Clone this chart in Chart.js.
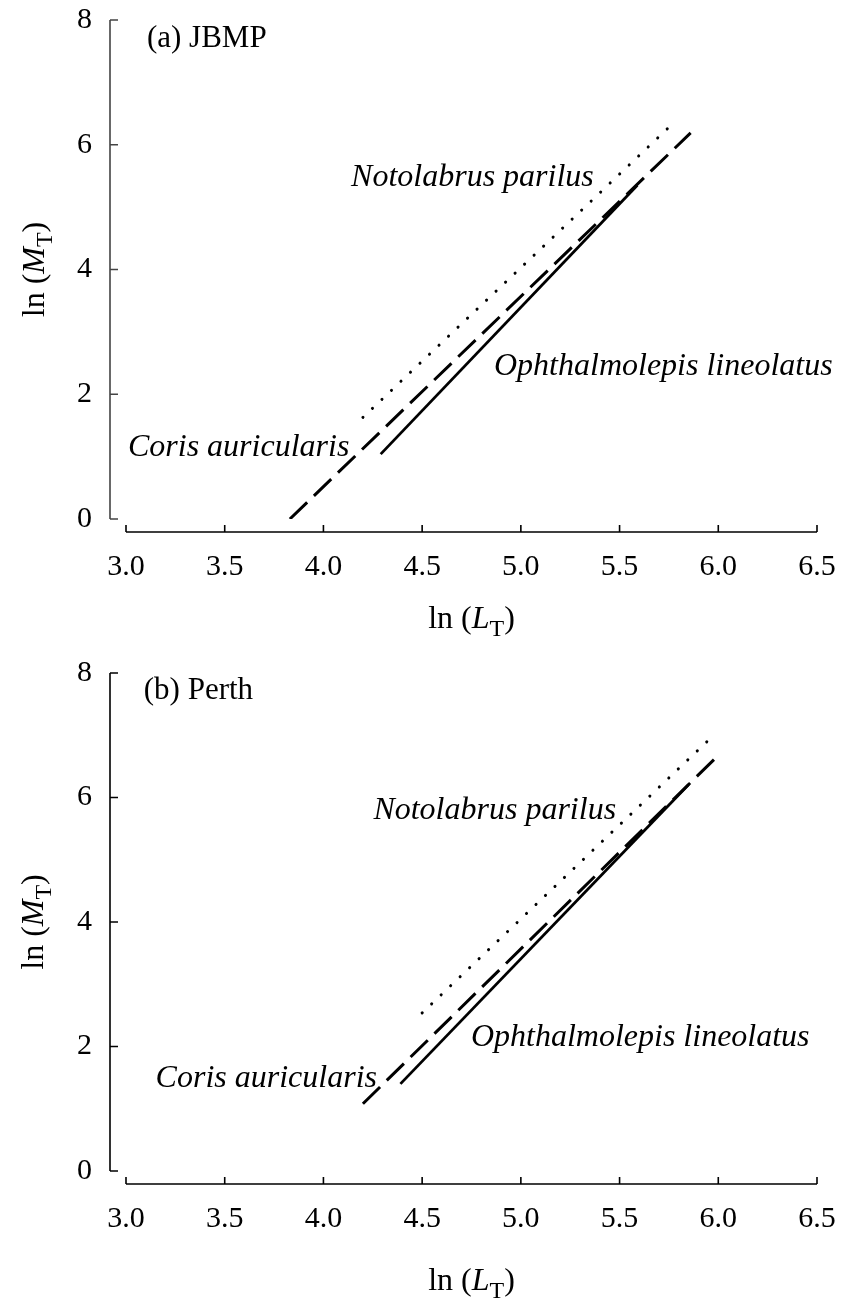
<!DOCTYPE html>
<html>
<head>
<meta charset="utf-8">
<script src="https://cdn.jsdelivr.net/npm/chart.js@4.4.1/dist/chart.umd.min.js"></script>
<style>
  body { margin: 0; background: #fff; }
  .panel { position: absolute; left: 0; width: 842px; height: 650px; }
</style>
</head>
<body>
<div class="panel" style="top:0px"><canvas id="chartA" width="842" height="650"></canvas></div>
<div class="panel" style="top:650px"><canvas id="chartB" width="842" height="650"></canvas></div>
<script>
var xTicks = [3.0, 3.5, 4.0, 4.5, 5.0, 5.5, 6.0, 6.5];
var yTicks = [0, 2, 4, 6, 8];

// end points of each fitted ln(M) ~ ln(L) line, (a) JBMP
var jbmpNotoL  = [4.20, 5.76];
var jbmpNotoM  = [1.63, 6.31];
var jbmpCorisL = [3.83, 5.86];
var jbmpCorisM = [0.00, 6.19];
var jbmpOphL   = [4.29, 5.59];
var jbmpOphM   = [1.04, 5.35];

// (b) Perth
var perthNotoL  = [4.50, 5.96];
var perthNotoM  = [2.54, 6.95];
var perthCorisL = [4.20, 5.985];
var perthCorisM = [1.08, 6.63];
var perthOphL   = [4.39, 5.85];
var perthOphM   = [1.40, 6.21];

var SERIF = '"Liberation Serif", "Times New Roman", serif';

function pts(xs, ys) {
  return xs.map(function (x, i) { return { x: x, y: ys[i] }; });
}

function lineSet(label, xs, ys, style) {
  var ds = {
    label: label,
    data: pts(xs, ys),
    showLine: true,
    borderColor: '#000',
    borderWidth: 2.8,
    pointRadius: 0,
    fill: false
  };
  if (style === 'dot') {
    ds.borderDash = [0.1, 13];
    ds.borderCapStyle = 'round';
    ds.borderWidth = 3;
  } else if (style === 'dash') {
    ds.borderDash = [24, 9.4];
    ds.borderCapStyle = 'butt';
    ds.borderWidth = 3;
  }
  return ds;
}

// draws "ln (X_T)" style text, parts = [[text, 'n'|'i'|'s'], ...], centred on 0
function drawRich(ctx, parts, size) {
  function font(kind) {
    if (kind === 'i') return 'italic ' + size + 'px ' + SERIF;
    if (kind === 's') return Math.round(size * 0.76) + 'px ' + SERIF;
    return size + 'px ' + SERIF;
  }
  var total = 0;
  parts.forEach(function (p) { ctx.font = font(p[1]); total += ctx.measureText(p[0]).width; });
  var x = -total / 2;
  ctx.textAlign = 'left';
  ctx.textBaseline = 'alphabetic';
  parts.forEach(function (p) {
    ctx.font = font(p[1]);
    ctx.fillText(p[0], x, p[1] === 's' ? size * 0.25 : 0);
    x += ctx.measureText(p[0]).width;
  });
}

var panelDecor = {
  id: 'panelDecor',
  afterDraw: function (chart, args, o) {
    var ctx = chart.ctx, sx = chart.scales.x, sy = chart.scales.y, area = chart.chartArea;
    var x0 = sx.getPixelForValue(xTicks[0]), x1 = sx.getPixelForValue(xTicks[xTicks.length - 1]);
    var y0 = sy.getPixelForValue(yTicks[0]), y1 = sy.getPixelForValue(yTicks[yTicks.length - 1]);
    var axX = x0 - o.yAxisGap;
    var axY = y0 + o.xAxisGap;
    ctx.save();

    // left axis with inward ticks
    ctx.lineWidth = 1.6;
    ctx.strokeStyle = o.yAxisColor;
    ctx.beginPath();
    ctx.moveTo(axX, y0); ctx.lineTo(axX, y1);
    yTicks.forEach(function (v) {
      var p = sy.getPixelForValue(v);
      ctx.moveTo(axX, p); ctx.lineTo(axX + 8, p);
    });
    ctx.stroke();

    // bottom axis, ticks pointing up
    ctx.strokeStyle = '#000';
    ctx.beginPath();
    ctx.moveTo(x0, axY); ctx.lineTo(x1, axY);
    xTicks.forEach(function (v) {
      var p = sx.getPixelForValue(v);
      ctx.moveTo(p, axY); ctx.lineTo(p, axY - 7);
    });
    ctx.stroke();

    // panel tag and species names
    ctx.fillStyle = '#000';
    ctx.textBaseline = 'middle';
    ctx.textAlign = 'left';
    o.labels.forEach(function (l) {
      ctx.font = l.italic ? 'italic ' + o.nameSize + 'px ' + SERIF : o.tagSize + 'px ' + SERIF;
      ctx.fillText(l.text, sx.getPixelForValue(l.x), sy.getPixelForValue(l.y));
    });

    // axis titles
    ctx.save();
    ctx.translate((area.left + area.right) / 2, area.bottom + o.xTitleDrop);
    drawRich(ctx, [['ln (', 'n'], ['L', 'i'], ['T', 's'], [')', 'n']], o.titleSize);
    ctx.restore();

    ctx.save();
    ctx.translate(area.left - o.yTitleGap, (area.top + area.bottom) / 2);
    ctx.rotate(-Math.PI / 2);
    drawRich(ctx, [['ln (', 'n'], ['M', 'i'], ['T', 's'], [')', 'n']], o.titleSize);
    ctx.restore();

    ctx.restore();
  }
};

function makePanel(id, sets, decor, area) {
  var chart = new Chart(document.getElementById(id), {
    type: 'scatter',
    data: { datasets: sets },
    options: {
      responsive: false,
      animation: false,
      devicePixelRatio: 1,
      layout: { padding: { left: 0, top: area.top, right: 842 - area.right, bottom: 0 } },
      plugins: {
        legend: { display: false },
        tooltip: { enabled: false },
        panelDecor: decor
      },
      scales: {
        x: {
          type: 'linear',
          min: 3, max: 6.5,
          // invisible tick marks only push the labels away from the plot
          grid: { display: false, drawTicks: true, tickLength: 30 },
          border: { display: false },
          afterFit: function (s) { s.height = 650 - area.bottom; },
          ticks: {
            stepSize: 0.5,
            padding: 0,
            color: '#000',
            font: { family: SERIF, size: 30 },
            callback: function (v) { return v.toFixed(1); }
          }
        },
        y: {
          type: 'linear',
          min: 0, max: 8,
          grid: { display: false, drawTicks: true, tickLength: 34 },
          border: { display: false },
          afterFit: function (s) { s.width = area.left; },
          ticks: {
            stepSize: 2,
            padding: 0,
            color: '#000',
            font: { family: SERIF, size: 30 }
          }
        }
      }
    },
    plugins: [panelDecor]
  });
  // nudge the layout padding until the plot box sits where it should
  for (var k = 0; k < 3; k++) {
    var a = chart.chartArea, p = chart.options.layout.padding;
    p.top = Math.max(0, p.top + area.top - a.top);
    p.right = Math.max(0, p.right + a.right - area.right);
    chart.update();
  }
  return chart;
}

makePanel('chartA', [
  lineSet('Notolabrus parilus', jbmpNotoL, jbmpNotoM, 'dot'),
  lineSet('Coris auricularis', jbmpCorisL, jbmpCorisM, 'dash'),
  lineSet('Ophthalmolepis lineolatus', jbmpOphL, jbmpOphM, 'solid')
], {
  yAxisGap: 16, xAxisGap: 13, yAxisColor: '#444',
  tagSize: 31, nameSize: 32, titleSize: 32, xTitleDrop: 109, yTitleGap: 82,
  labels: [
    { text: '(a) JBMP', x: 3.106, y: 7.70, italic: false },
    { text: 'Notolabrus parilus', x: 4.14, y: 5.48, italic: true },
    { text: 'Ophthalmolepis lineolatus', x: 4.864, y: 2.44, italic: true },
    { text: 'Coris auricularis', x: 3.01, y: 1.14, italic: true }
  ]
}, { left: 126, top: 20, right: 817, bottom: 519 });

makePanel('chartB', [
  lineSet('Notolabrus parilus', perthNotoL, perthNotoM, 'dot'),
  lineSet('Coris auricularis', perthCorisL, perthCorisM, 'dash'),
  lineSet('Ophthalmolepis lineolatus', perthOphL, perthOphM, 'solid')
], {
  yAxisGap: 16, xAxisGap: 13, yAxisColor: '#000',
  tagSize: 31, nameSize: 32, titleSize: 32, xTitleDrop: 119, yTitleGap: 83,
  labels: [
    { text: '(b) Perth', x: 3.09, y: 7.72, italic: false },
    { text: 'Notolabrus parilus', x: 4.253, y: 5.79, italic: true },
    { text: 'Ophthalmolepis lineolatus', x: 4.747, y: 2.15, italic: true },
    { text: 'Coris auricularis', x: 3.15, y: 1.49, italic: true }
  ]
}, { left: 126, top: 23, right: 817, bottom: 521 });
</script>
</body>
</html>
